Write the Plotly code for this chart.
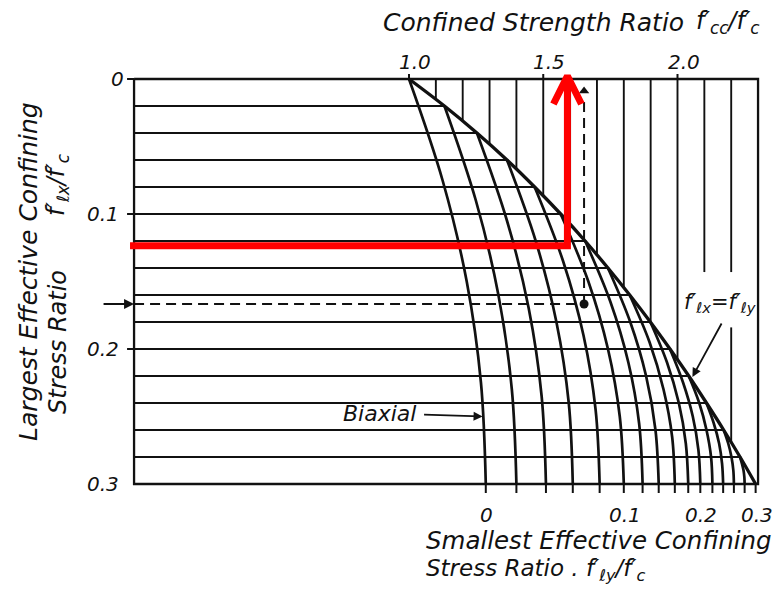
import numpy as np
import plotly.graph_objects as go

# ---------------- data ----------------
# envelope curve f'lx = f'ly : largest confining ratio -> confined strength ratio
ENV_LX = [0.00, 0.02, 0.04, 0.06, 0.08, 0.10, 0.12, 0.14, 0.16, 0.18, 0.20, 0.22, 0.24, 0.26, 0.28, 0.30]
ENV_R = [1.000, 1.132, 1.253, 1.365, 1.468, 1.565, 1.656, 1.741, 1.822, 1.899, 1.972, 2.042, 2.108, 2.172, 2.233, 2.291]

# family of curves, one per smallest confining ratio f'ly/f'c
CURVE_LY = [0.00, 0.02, 0.04, 0.06, 0.08, 0.10, 0.12, 0.14, 0.16, 0.18, 0.20, 0.22, 0.24, 0.26, 0.28]
CURVE_LX = [
    [0.000, 0.075, 0.150, 0.225, 0.300],
    [0.020, 0.090, 0.160, 0.230, 0.300],
    [0.040, 0.105, 0.170, 0.235, 0.300],
    [0.060, 0.120, 0.180, 0.240, 0.300],
    [0.080, 0.135, 0.190, 0.245, 0.300],
    [0.100, 0.150, 0.200, 0.250, 0.300],
    [0.120, 0.165, 0.210, 0.255, 0.300],
    [0.140, 0.180, 0.220, 0.260, 0.300],
    [0.160, 0.195, 0.230, 0.265, 0.300],
    [0.180, 0.210, 0.240, 0.270, 0.300],
    [0.200, 0.225, 0.250, 0.275, 0.300],
    [0.220, 0.240, 0.260, 0.280, 0.300],
    [0.240, 0.255, 0.270, 0.285, 0.300],
    [0.260, 0.270, 0.280, 0.290, 0.300],
    [0.280, 0.285, 0.290, 0.295, 0.300],
]
CURVE_R = [
    [1.000, 1.125, 1.215, 1.268, 1.286],
    [1.132, 1.249, 1.333, 1.383, 1.400],
    [1.253, 1.365, 1.446, 1.494, 1.510],
    [1.365, 1.472, 1.549, 1.595, 1.610],
    [1.468, 1.574, 1.650, 1.695, 1.710],
    [1.565, 1.668, 1.741, 1.785, 1.800],
    [1.656, 1.750, 1.817, 1.857, 1.870],
    [1.741, 1.824, 1.883, 1.918, 1.930],
    [1.822, 1.896, 1.948, 1.980, 1.990],
    [1.899, 1.961, 2.005, 2.031, 2.040],
    [1.972, 2.021, 2.057, 2.078, 2.085],
    [2.042, 2.081, 2.108, 2.125, 2.130],
    [2.108, 2.135, 2.155, 2.166, 2.170],
    [2.172, 2.189, 2.201, 2.208, 2.210],
    [2.233, 2.240, 2.246, 2.249, 2.250],
]

HGRID_LX = [0.02, 0.04, 0.06, 0.08, 0.10, 0.12, 0.14, 0.16, 0.18, 0.20, 0.22, 0.24, 0.26, 0.28]
VGRID_R = [1.1, 1.2, 1.3, 1.4, 1.5, 1.6, 1.7, 1.8, 1.9, 2.0, 2.1, 2.2]

TOP_TICKS = [1.0, 1.5, 2.0]
TOP_TICK_TEXT = ["1.0", "1.5", "2.0"]
LEFT_TICKS = [0.0, 0.1, 0.2, 0.3]
LEFT_TICK_TEXT = ["0", "0.1", "0.2", "0.3"]
BOTTOM_TICKS_LY = [0.0, 0.1, 0.2, 0.3]
BOTTOM_TICK_TEXT = ["0", "0.1", "0.2", "0.3"]

# worked example (dashed) and red overlay reading
EX_LX, EX_R = 0.1667, 1.652
RED_LX, RED_R = 0.1236, 1.590

# ---------------- frame / scale ----------------
X_LEFT, X_RIGHT = -0.024, 2.300      # frame edges in strength-ratio units
KX, KY = 268.5, 1350.0               # pixels per unit
W, H = 783, 589
XR = [1 - 409 / KX, 1 + (W - 409) / KX]
YR = [(H - 79) / KY, -79 / KY]

BLACK = "#111111"
FONT = "DejaVu Sans"

fig = go.Figure()


def line(xs, ys, width=2.0, color=BLACK, dash=None, shape="linear"):
    fig.add_trace(go.Scatter(x=xs, y=ys, mode="lines", hoverinfo="skip",
                             line=dict(color=color, width=width, dash=dash, shape=shape)))


# horizontal grid (left edge to envelope)
hx, hy = [], []
for lx in HGRID_LX:
    hx += [X_LEFT, float(np.interp(lx, ENV_LX, ENV_R)), None]
    hy += [lx, lx, None]
line(hx, hy, 1.9)

# vertical grid (top edge down to envelope), gaps round the envelope label
vx, vy = [], []
gap_top, gap_bot = 0.143, 0.184
for r in VGRID_R:
    end = float(np.interp(r, ENV_R, ENV_LX))
    if abs(r - 2.1) < 1e-6:
        vx += [r, r, None]
        vy += [0, gap_top, None]
    elif abs(r - 2.2) < 1e-6:
        vx += [r, r, None, r, r, None]
        vy += [0, gap_top, None, gap_bot, end, None]
    else:
        vx += [r, r, None]
        vy += [0, end, None]
line(vx, vy, 1.9)

# family curves
for lxs, rs in zip(CURVE_LX, CURVE_R):
    line(rs, lxs, 2.7, shape="spline")

# envelope
line(ENV_R, ENV_LX, 3.3, shape="spline")

# frame
line([X_LEFT, X_RIGHT, X_RIGHT, X_LEFT, X_LEFT], [0, 0, 0.3, 0.3, 0], 2.3)

# ticks
tx, ty = [], []
for t in TOP_TICKS:
    tx += [t, t, None]
    ty += [0, -5 / KY, None]
feet = [c[-1] for c in CURVE_R] + [ENV_R[-1]]
for f in feet:
    tx += [f, f, None]
    ty += [0.3, 0.3 + 9 / KY, None]
for t in LEFT_TICKS[:3]:
    tx += [X_LEFT, X_LEFT - 7 / KX, None]
    ty += [t, t, None]
line(tx, ty, 2.0)

# worked example: dashed lines, dot, arrowheads
line([X_LEFT, EX_R], [EX_LX, EX_LX], 2.0, dash="10px,6px")
line([EX_R, EX_R], [EX_LX, 18 / KY], 2.0, dash="10px,6px")
fig.add_trace(go.Scatter(x=[EX_R], y=[EX_LX], mode="markers", hoverinfo="skip",
                         marker=dict(color=BLACK, size=9)))
fig.add_trace(go.Scatter(x=[EX_R], y=[12 / KY], mode="markers", hoverinfo="skip",
                         marker=dict(color=BLACK, size=9, symbol="triangle-up")))

# red overlay
RED = "#ff0000"
tip = -3 / KY
line([-0.039, RED_R, RED_R], [RED_LX, RED_LX, tip], 7, RED)
line([RED_R - 14 / KX, RED_R, RED_R + 14 / KX], [tip + 28 / KY, tip, tip + 28 / KY], 7, RED)


def P(xp, yp):
    return xp / W, 1 - yp / H


ann = []


def text(t, xp, yp, size=20, xanchor="center", angle=0):
    x, y = P(xp, yp)
    ann.append(dict(text=t, x=x, y=y, xref="paper", yref="paper", showarrow=False,
                    xanchor=xanchor, yanchor="middle", textangle=angle,
                    font=dict(family=FONT, size=size, color=BLACK, style="italic")))


text("Confined Strength Ratio", 381, 22, 25, "left")
text("f′<sub>cc</sub>/f′<sub>c</sub>", 694, 22, 24, "left")
for t, s in zip(TOP_TICKS, TOP_TICK_TEXT):
    ann.append(dict(text=s, x=t, y=P(0, 62)[1], xref="x", yref="paper", xshift=6,
                    showarrow=False, yanchor="middle",
                    font=dict(family=FONT, size=20, color=BLACK, style="italic")))
for t, s in zip(LEFT_TICKS, LEFT_TICK_TEXT):
    ann.append(dict(text=s, x=P(126, 0)[0] if t == 0 else P(121, 0)[0], y=t,
                    xref="paper", yref="y", xanchor="right",
                    showarrow=False, yanchor="middle",
                    font=dict(family=FONT, size=20, color=BLACK, style="italic")))
for t, s in zip(BOTTOM_TICKS_LY, BOTTOM_TICK_TEXT):
    xf = ENV_R[-1] if t >= 0.3 else CURVE_R[CURVE_LY.index(t)][-1]
    ann.append(dict(text=s, x=xf, y=P(0, 515)[1], xref="x", yref="paper", xshift=1,
                    showarrow=False, yanchor="middle",
                    font=dict(family=FONT, size=20, color=BLACK, style="italic")))
text("Smallest Effective Confining", 424, 540, 24.5, "left")
text("Stress Ratio . f′<sub>ℓy</sub>/f′<sub>c</sub>", 424, 570, 23, "left")
text("Largest Effective Confining", 29, 272, 25, "center", -90)
text("Stress Ratio", 58, 342, 24, "center", -90)
text("f′<sub>ℓx</sub>/f′<sub>c</sub>", 58, 185, 24, "center", -90)
text("Biaxial", 418, 413, 22, "right")
text("f′<sub>ℓx</sub>=f′<sub>ℓy</sub>", 720, 303, 21, "center")

# arrows
bx = float(np.interp(0.25, CURVE_LX[0], CURVE_R[0]))
ann.append(dict(text="", x=bx, y=0.25, xref="x", yref="y", ax=-60, ay=-2,
                showarrow=True, arrowhead=2, arrowsize=1, arrowwidth=1.8, arrowcolor=BLACK))
ann.append(dict(text="", x=X_LEFT, y=EX_LX, xref="x", yref="y", ax=-32, ay=0,
                showarrow=True, arrowhead=2, arrowsize=1, arrowwidth=2, arrowcolor=BLACK))
el = 0.2207
ann.append(dict(text="", x=float(np.interp(el, ENV_LX, ENV_R)) + 3 / KX, y=el, xref="x", yref="y",
                ax=30, ay=-55, showarrow=True, arrowhead=2, arrowsize=1, arrowwidth=1.8,
                arrowcolor=BLACK))

fig.update_layout(
    width=W, height=H, margin=dict(l=0, r=0, t=0, b=0),
    font=dict(family=FONT, size=20, color=BLACK),
    paper_bgcolor="white", plot_bgcolor="white", showlegend=False,
    xaxis=dict(range=XR, visible=False, fixedrange=True),
    yaxis=dict(range=YR, visible=False, fixedrange=True),
    annotations=ann,
)

fig.write_html("out.html", config={"displayModeBar": False},
               post_script="document.body.style.margin='0';document.body.style.overflow='hidden';")
